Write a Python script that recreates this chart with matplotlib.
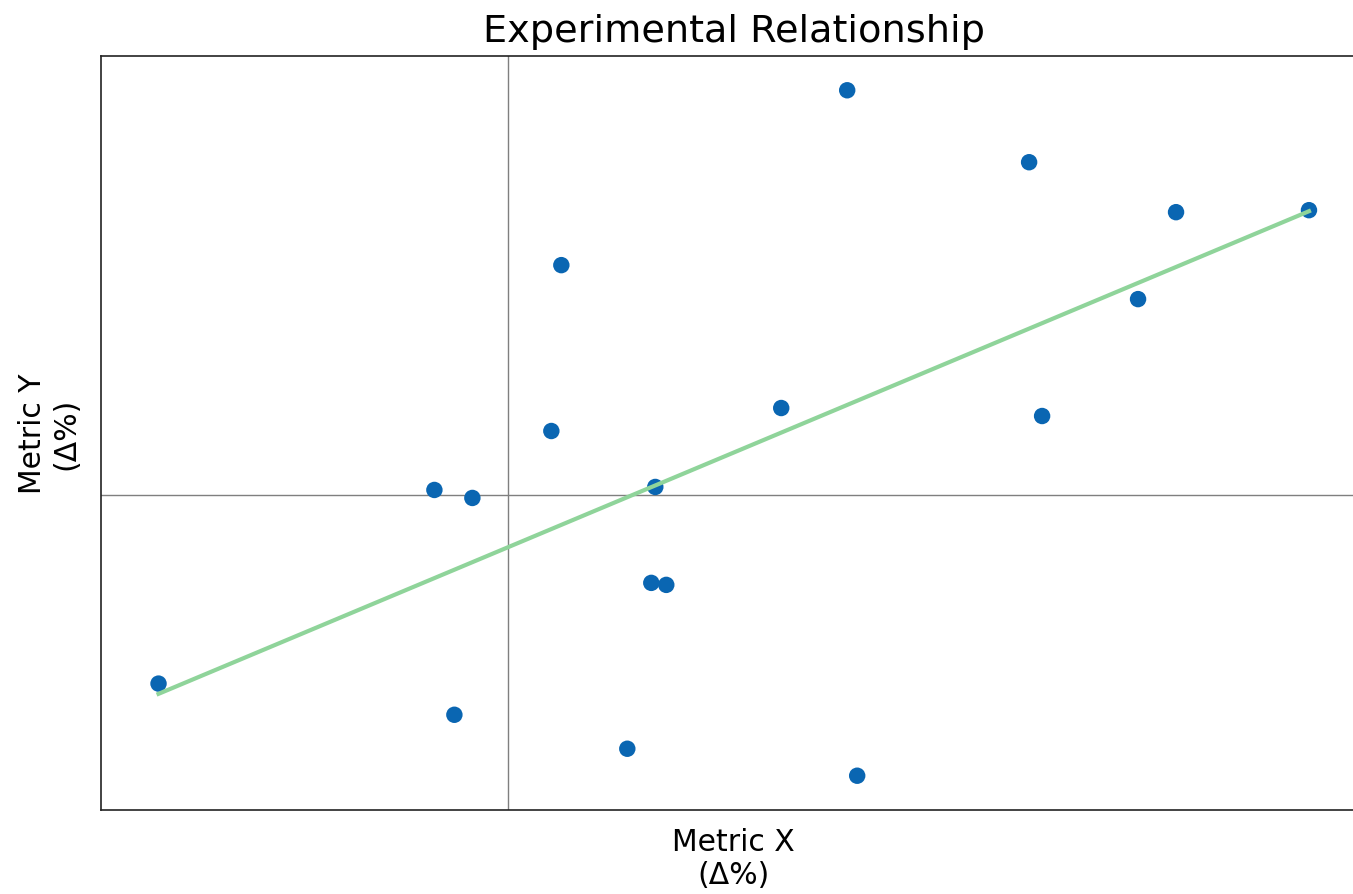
import numpy as np
import matplotlib
matplotlib.use("Agg")
import matplotlib.pyplot as plt

# Data (Δ%)
metric_x = [-8.75, -1.85, -0.90, -1.35, 1.075, 1.325, 2.975, 3.575, 3.95,
            3.675, 6.825, 8.475, 8.725, 13.025, 13.35, 15.75, 16.70, 20.025]
metric_y = [-4.72, 0.125, -0.075, -5.50, 1.60, 5.75, -6.35, -2.20, -2.25,
            0.20, 2.175, 10.125, -7.025, 8.325, 1.975, 4.90, 7.075, 7.125]

title = "Experimental Relationship"
xlabel = "Metric X\n(Δ%)"
ylabel = "Metric Y\n(Δ%)"

x = np.array(metric_x)
y = np.array(metric_y)

fig = plt.figure(figsize=(13.53, 8.95), dpi=100)
ax = fig.add_axes([101/1353, (895-811)/895, (1366.5-101)/1353, (811-57)/895])

ax.axhline(0, color="#7f7f7f", linewidth=1.0, zorder=1)
ax.axvline(0, color="#7f7f7f", linewidth=1.0, zorder=1)
ax.scatter(x, y, s=140, color="#0a66b2", zorder=2, edgecolors="none")

slope, intercept = np.polyfit(x, y, 1)
xs = np.array([x.min(), x.max()])
ax.plot(xs, slope * xs + intercept, color="#8fd49a", linewidth=3, zorder=3)

ax.set_xticks([])
ax.set_yticks([])
for s in ax.spines.values():
    s.set_linewidth(1.2)
    s.set_color("#222222")

ax.set_title(title, fontsize=27.5, pad=11)
ax.set_xlabel(xlabel, fontsize=21.5, labelpad=12)
ax.set_ylabel(ylabel, fontsize=21.5, labelpad=15)

fig.savefig("out.png", dpi=100)
